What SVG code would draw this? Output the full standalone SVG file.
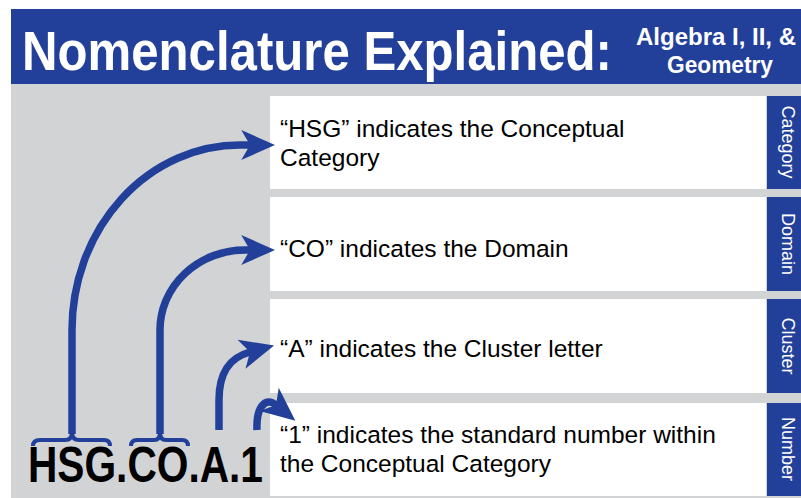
<svg xmlns="http://www.w3.org/2000/svg" width="801" height="498" viewBox="0 0 801 498">
<style>
.hdr{fill:#22409A}
.bg{fill:#D1D3D4}
.box{fill:#FFFFFF}
.tab{fill:#22409A}
.title{font-family:"Liberation Sans",Arial,sans-serif;font-weight:bold;fill:#FFFFFF}
.body{font-family:"Liberation Sans",Arial,sans-serif;font-size:24.5px;fill:#000000}
.tabt{font-family:"Liberation Sans",Arial,sans-serif;font-size:18px;fill:#FFFFFF;text-anchor:middle}
.code{font-family:"Liberation Sans",Arial,sans-serif;font-weight:bold;font-size:50px;fill:#000000}
.arr{fill:none;stroke:#22409A;stroke-width:7.5;marker-end:url(#ah)}
.brace{fill:none;stroke:#22409A;stroke-width:4;stroke-linejoin:round}
</style>
<defs>
<marker id="ah" markerUnits="userSpaceOnUse" markerWidth="40" markerHeight="40" viewBox="-2 -14 32 28" refX="7" refY="0" orient="auto" overflow="visible">
<path d="M0,-12 L27,0 L0,12 L7,0 Z" fill="#22409A"/>
</marker>
</defs>
<rect x="0" y="0" width="801" height="498" fill="#FFFFFF"/>
<g id="header">
<rect class="hdr" x="11" y="9" width="790" height="75"/>
<text class="title" x="22" y="70" font-size="56" textLength="590" lengthAdjust="spacingAndGlyphs">Nomenclature Explained:</text>
<text class="title" x="636" y="45" font-size="24" textLength="160" lengthAdjust="spacingAndGlyphs">Algebra I, II, &amp;</text>
<text class="title" x="667" y="73" font-size="24" textLength="106" lengthAdjust="spacingAndGlyphs">Geometry</text>
</g>
<rect class="bg" x="11" y="84" width="790" height="414"/>
<g id="category">
<rect class="box" x="270" y="96" width="496" height="93"/>
<rect class="tab" x="767" y="96" width="34" height="93"/>
<text class="body" x="280" y="137">“HSG” indicates the Conceptual</text>
<text class="body" x="280" y="166">Category</text>
<text class="tabt" transform="translate(782,142) rotate(90)">Category</text>
</g>
<g id="domain">
<rect class="box" x="270" y="197" width="496" height="94"/>
<rect class="tab" x="767" y="197" width="34" height="94"/>
<text class="body" x="280" y="257">“CO” indicates the Domain</text>
<text class="tabt" transform="translate(782,244) rotate(90)">Domain</text>
</g>
<g id="cluster">
<rect class="box" x="270" y="299" width="496" height="94"/>
<rect class="tab" x="767" y="299" width="34" height="94"/>
<text class="body" x="280" y="357">“A” indicates the Cluster letter</text>
<text class="tabt" transform="translate(782,346) rotate(90)">Cluster</text>
</g>
<g id="number">
<rect class="box" x="270" y="403" width="496" height="93"/>
<rect class="tab" x="767" y="403" width="34" height="93"/>
<text class="body" x="280" y="443">“1” indicates the standard number within</text>
<text class="body" x="280" y="472">the Conceptual Category</text>
<text class="tabt" transform="translate(782,449) rotate(90)">Number</text>
</g>
<g id="code">
<text class="code" x="28" y="482" textLength="235" lengthAdjust="spacingAndGlyphs">HSG.CO.A.1</text>
</g>
<g id="connectors">
<path class="brace" d="M33,446 Q33,440 40,440 L65,440 Q72,440 72,432 Q72,440 79,440 L104,440 Q110,440 110,446"/>
<path class="brace" d="M131,446 Q131,440 137,440 L154,440 Q160,440 160,432 Q160,440 166,440 L182,440 Q188,440 188,446"/>
<path class="arr" d="M72,434 L72,330 A168,185 0 0 1 240,145 L250,145"/>
<path class="arr" d="M160,434 L160,330 A85,80 0 0 1 245,250 L250,250"/>
<path class="arr" d="M219,430 L219,400 C219,374 228,358 250,352"/>
<path class="arr" d="M257,430 C256,408 265,396 276,405"/>
</g>
</svg>
